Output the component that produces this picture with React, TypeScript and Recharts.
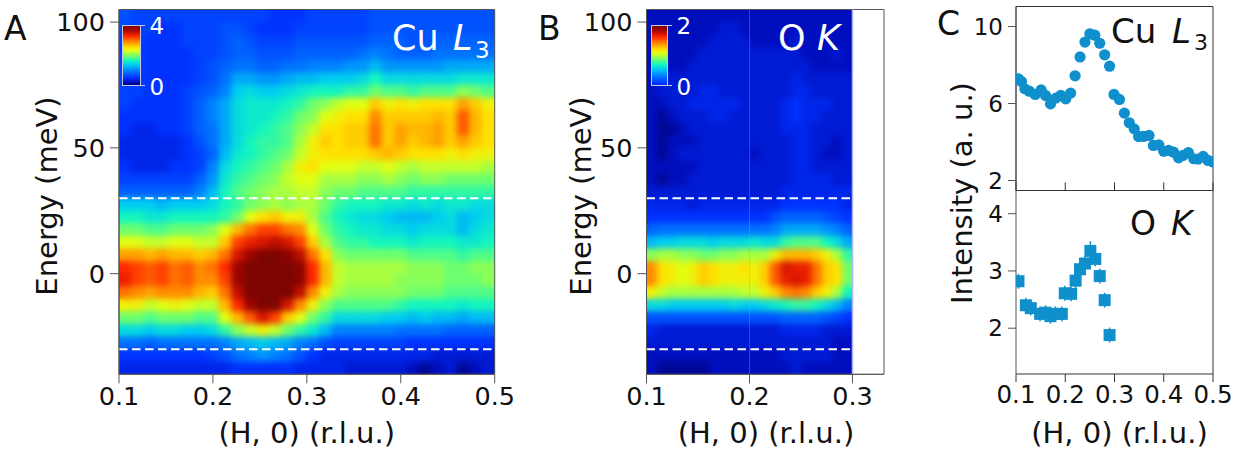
import React from "react";
import { ScatterChart, Scatter, XAxis, YAxis, ReferenceLine, ReferenceArea, ErrorBar } from "recharts";

const FONT = '"DejaVu Sans", Verdana, sans-serif';
const W = 1236;
const H = 458;

// Energy bin centres, top to bottom (meV)
const energies = [102.5, 97.5, 92.5, 87.5, 82.5, 77.5, 72.5, 67.5, 62.5, 57.5, 52.5, 47.5, 42.5, 37.5, 32.5, 27.5, 22.5, 17.5, 12.5, 7.5, 2.5, -2.5, -7.5, -12.5, -17.5, -22.5, -27.5, -32.5, -37.5];

// Panel A: intensity x 10 (Cu L3), 30 H bins from 0.1 to 0.5
const cuMap = [
  [7,6,6,6,6,6,6,6,6,6,6,6,5,5,5,6,6,6,6,6,7,7,7,7,7,7,7,7,7,7],
  [6,6,6,5,5,6,6,6,7,7,6,5,5,5,6,6,6,6,6,6,7,7,7,7,7,7,7,7,7,7],
  [6,6,5,5,5,6,6,6,7,8,7,6,6,6,7,7,7,7,7,7,8,8,8,7,7,8,8,8,8,8],
  [6,6,5,5,5,5,6,6,7,8,8,7,7,7,8,8,8,8,8,9,10,9,8,8,8,9,9,9,9,9],
  [6,6,5,5,5,5,6,7,8,9,9,8,8,9,9,10,10,10,11,11,13,11,11,11,11,11,12,12,12,12],
  [6,6,5,5,5,5,6,7,9,12,12,11,11,12,13,13,14,14,14,15,17,15,15,15,15,15,15,16,16,16],
  [6,6,5,5,5,6,7,8,10,14,15,14,14,15,16,17,17,17,18,18,20,19,19,18,19,19,19,21,20,19],
  [6,5,5,5,5,6,8,10,12,15,16,16,16,17,18,20,21,23,24,24,27,25,26,25,26,26,26,29,27,25],
  [5,5,5,5,5,6,8,10,12,15,16,16,17,18,20,21,24,25,26,26,30,27,27,27,27,28,27,32,28,26],
  [5,4,4,5,5,6,8,9,12,15,16,17,18,19,21,23,26,26,27,27,31,27,29,28,28,29,27,32,28,26],
  [4,4,4,4,4,5,7,9,12,15,17,18,18,19,22,25,27,26,27,27,31,27,29,27,28,29,27,29,27,26],
  [4,4,4,4,4,5,6,8,13,16,17,18,19,20,23,25,26,26,26,26,27,28,27,26,26,26,25,26,25,25],
  [5,4,4,4,5,5,6,10,15,17,18,19,20,22,25,26,24,24,24,23,23,24,23,22,23,23,23,23,23,22],
  [6,6,6,6,6,6,8,11,16,18,19,20,21,23,24,24,22,22,22,21,21,22,21,20,21,21,20,20,20,20],
  [8,8,8,8,8,8,10,13,17,19,20,21,22,22,23,23,21,20,20,19,19,19,19,18,18,18,18,18,18,18],
  [14,14,14,13,14,14,14,15,17,18,20,21,22,21,22,22,20,18,17,17,17,16,16,15,16,15,16,16,15,15],
  [17,17,16,16,17,17,17,17,18,20,24,26,27,25,25,22,19,17,16,15,15,14,13,13,13,14,15,13,14,15],
  [20,20,19,19,20,20,20,21,24,28,31,33,33,31,30,24,20,18,17,16,16,15,15,14,15,15,15,13,15,16],
  [24,24,23,23,24,24,23,23,27,33,35,36,37,36,33,27,22,19,18,18,17,17,17,16,17,17,17,16,16,17],
  [29,29,28,29,28,28,27,28,31,36,39,42,42,40,37,31,26,21,20,20,20,20,20,19,19,19,19,18,19,19],
  [34,33,32,33,31,32,30,31,34,39,44,46,46,44,40,34,28,23,22,22,22,22,22,21,21,21,20,20,21,21],
  [35,33,32,33,31,32,30,30,33,39,44,46,46,44,40,34,28,23,22,22,22,22,21,21,21,21,20,20,20,21],
  [31,30,29,30,30,30,28,27,31,37,43,46,45,42,37,30,25,22,21,21,21,21,21,20,20,20,19,19,19,19],
  [25,25,23,24,25,24,23,23,28,34,39,42,42,36,30,25,21,19,19,19,19,19,18,17,17,17,17,16,17,17],
  [20,20,19,20,20,20,19,19,24,28,32,36,33,27,24,20,18,15,15,15,15,14,14,13,14,13,13,12,13,13],
  [15,15,14,15,15,14,14,15,18,21,23,25,23,20,18,16,13,10,10,10,10,10,9,9,9,9,8,8,8,8],
  [9,9,8,9,9,9,9,9,10,12,13,14,13,12,10,9,7,6,6,6,6,6,6,5,5,5,5,5,5,5],
  [5,5,5,5,5,5,5,6,7,9,10,11,10,9,7,5,4,4,4,4,4,4,4,4,4,3,3,3,3,3],
  [4,4,4,4,4,4,4,4,4,5,5,5,5,5,4,4,4,4,3,3,3,3,3,2,1,2,3,1,2,3],
];

// Panel B: intensity x 20 (O K), 20 H bins from 0.1 to 0.3
const oMap = [
  [2,2,2,2,2,2,2,2,2,2,2,2,2,2,2,2,2,2,2,2],
  [2,2,2,2,2,2,2,3,3,2,2,2,2,2,2,2,2,2,2,2],
  [2,2,2,2,2,2,3,3,3,3,2,2,2,2,3,2,2,2,2,2],
  [2,2,2,2,2,3,3,3,3,3,3,3,3,3,3,2,2,2,3,2],
  [2,2,2,2,3,3,3,3,3,3,3,3,3,3,3,3,2,2,2,2],
  [2,3,3,3,3,3,3,3,3,3,3,3,3,3,4,3,3,3,3,3],
  [2,3,3,3,3,4,4,3,3,3,3,3,3,3,4,4,3,3,3,3],
  [2,2,3,3,4,4,4,4,4,3,3,3,3,4,5,4,4,4,3,3],
  [2,1,2,3,3,3,4,4,3,3,3,3,3,4,5,4,4,3,3,3],
  [2,1,1,2,3,3,3,3,3,3,3,3,3,4,4,4,3,3,3,3],
  [2,1,2,2,2,3,3,3,3,3,3,3,3,3,4,4,3,3,2,3],
  [2,1,2,3,3,3,3,3,3,3,2,3,3,3,4,4,3,2,2,3],
  [2,2,2,2,2,3,3,3,3,3,3,3,3,3,4,4,3,3,3,3],
  [2,1,2,2,3,3,3,3,3,3,3,3,3,3,4,4,4,4,3,3],
  [3,3,3,3,3,3,3,3,3,3,3,3,3,4,4,4,4,4,4,4],
  [4,4,4,4,3,4,4,4,4,4,4,4,4,5,5,5,5,5,5,4],
  [5,5,5,5,5,5,5,5,5,5,5,5,7,8,8,8,8,7,6,5],
  [8,9,9,9,9,9,9,9,9,9,9,9,10,12,12,12,12,11,10,8],
  [13,14,14,15,15,15,14,15,15,15,16,15,15,18,19,19,19,17,15,12],
  [21,22,22,21,21,20,20,21,21,22,22,22,25,28,28,28,27,25,22,18],
  [30,26,25,24,25,27,26,25,25,26,25,27,32,36,35,35,31,27,26,20],
  [30,26,25,24,25,27,26,25,25,25,25,27,32,35,36,35,31,27,26,20],
  [25,23,22,22,22,22,22,22,22,23,23,25,27,30,31,30,27,25,22,17],
  [15,15,14,14,14,14,14,14,15,14,14,15,16,17,18,18,17,15,13,10],
  [7,7,7,7,7,7,7,7,7,7,7,7,7,8,8,8,8,7,6,5],
  [4,3,3,3,3,3,3,3,3,3,3,3,3,4,4,4,4,3,3,3],
  [3,3,3,3,3,3,3,3,3,3,3,3,3,3,3,3,3,3,2,2],
  [2,2,2,2,2,2,2,2,2,2,2,2,2,3,3,3,3,3,2,2],
  [2,1,1,1,1,1,2,2,2,2,2,2,2,2,3,2,2,2,2,2],
];

// Panel C, top: Cu L3
const cuH = [0.105,0.111,0.118,0.127,0.139,0.151,0.16,0.17,0.181,0.191,0.201,0.211,0.22,0.23,0.24,0.25,0.26,0.27,0.28,0.29,0.299,0.31,0.32,0.33,0.34,0.349,0.359,0.37,0.379,0.39,0.4,0.41,0.42,0.43,0.439,0.45,0.461,0.47,0.48,0.49,0.499];
const cuI = [7.28,7.14,6.76,6.64,6.47,6.71,6.42,5.98,6.28,6.42,6.24,6.54,7.44,8.42,9.19,9.62,9.55,9.13,8.53,7.94,6.47,6.21,5.5,5.0,4.68,4.29,4.29,4.34,3.82,3.85,3.52,3.56,3.47,3.18,3.3,3.45,3.13,3.11,3.25,3.04,2.97];

// Panel C, bottom: O K
const oH = [0.105,0.12,0.13,0.149,0.16,0.17,0.18,0.193,0.199,0.212,0.221,0.23,0.24,0.251,0.261,0.27,0.28,0.29];
const oI = [2.82,2.4,2.35,2.25,2.27,2.21,2.25,2.25,2.61,2.6,2.83,3.03,3.13,3.35,3.21,2.91,2.49,1.88];
const oErr = [0.13,0.13,0.13,0.13,0.13,0.13,0.13,0.13,0.13,0.13,0.13,0.13,0.13,0.17,0.13,0.13,0.13,0.13];

const energyTicks = [0, 50, 100];
const hTicksWide = [0.1, 0.2, 0.3, 0.4, 0.5];
const hTicksNarrow = [0.1, 0.2, 0.3];
const cuTicks = [2, 6, 10];
const oTicks = [2, 3, 4];

const stops: [number, number[]][] = [
  [0, [0, 0, 110]], [2, [0, 15, 190]], [5, [0, 50, 255]], [10, [0, 130, 255]], [14, [0, 205, 240]],
  [17, [20, 245, 190]], [20, [110, 255, 110]], [24, [225, 255, 20]], [26, [255, 225, 0]], [30, [255, 140, 0]],
  [34, [255, 40, 0]], [38, [170, 5, 0]], [41, [125, 5, 0]],
];
const colorOf = (v: number) => {
  if (v >= stops[stops.length - 1][0]) return `rgb(${stops[stops.length - 1][1].join(",")})`;
  for (let i = 1; i < stops.length; i++) {
    if (v <= stops[i][0]) {
      const [a, ca] = stops[i - 1];
      const [b, cb] = stops[i];
      const t = (v - a) / (b - a);
      return `rgb(${ca.map((c, k) => Math.round(c + (cb[k] - c) * t)).join(",")})`;
    }
  }
  return "#000";
};
const gradient = (from: number) =>
  `linear-gradient(to top, ${stops.filter((s) => s[0] >= from).map((s) => `${colorOf(s[0])} ${((s[0] - from) / (41 - from)) * 100}%`).join(", ")})`;

const cells = (m: number[][], hMin: number, hMax: number) => {
  const n = m[0].length;
  return m.flatMap((row, r) => row.map((v, c) => ({ h: hMin + ((c + 0.5) * (hMax - hMin)) / n, e: energies[r], v })));
};

const T = 9.5;
const B = 374.3;
const EDOM: [number, number] = [-40, 105];

function Heat({ left, right, hMin, hMax, m }: any) {
  const w = right - left;
  const h = B - T;
  const cw = w / m[0].length + 1;
  const ch = (h * 5) / 145 + 1;
  const data = cells(m, hMin, hMax);
  const shape = (p: any) => {
    const v = p.payload?.v ?? p.v;
    return <rect x={p.cx - cw / 2} y={p.cy - ch / 2} width={cw} height={ch} fill={colorOf(v)} />;
  };
  return (
    <div style={{ position: "absolute", left, top: T, width: w, height: h, overflow: "hidden" }}>
      <ScatterChart width={w} height={h} margin={{ top: 0, right: 0, bottom: 0, left: 0 }}>
        <XAxis type="number" dataKey="h" domain={[hMin, hMax]} hide />
        <YAxis type="number" dataKey="e" domain={EDOM} hide />
        <Scatter data={data} shape={shape} isAnimationActive={false} />
        <Scatter data={data} shape={shape} className="heat-soft" isAnimationActive={false} />
      </ScatterChart>
    </div>
  );
}

const frame = { position: "absolute" as const, left: 0, top: 0 };
const tickFont = { fontFamily: FONT, fontSize: 25.5, fill: "#111" };
const axisCol = "#555";

function MapAxes({ left, right, domain, ticks, hEnd, title, titleX, yTitleX, letter, letterX, children }: any) {
  return (
    <div style={{ ...frame, pointerEvents: "none" }}>
      <ScatterChart width={W} height={H} margin={{ top: T, right: W - right, bottom: H - B - 40, left: left - 60 }}>
        <XAxis type="number" dataKey="h" domain={domain} ticks={ticks} height={40} interval={0} allowDataOverflow
          tick={tickFont} tickSize={9} tickMargin={4} tickFormatter={(v: number) => v.toFixed(1)} stroke={axisCol} />
        <YAxis type="number" dataKey="e" domain={EDOM} ticks={energyTicks} width={60} interval={0} allowDataOverflow
          tick={tickFont} tickSize={9} tickMargin={5} stroke={axisCol} />
        <ReferenceArea x1={domain[0]} x2={domain[1]} y1={EDOM[0]} y2={EDOM[1]} fill="none" stroke={axisCol} strokeWidth={1} />
        <ReferenceLine segment={[{ x: domain[0], y: 30 }, { x: hEnd, y: 30 }]} stroke="#fff" strokeWidth={2} strokeDasharray="8.5 4.5" />
        <ReferenceLine segment={[{ x: domain[0], y: -30 }, { x: hEnd, y: -30 }]} stroke="#fff" strokeWidth={2} strokeDasharray="8.5 4.5" />
        {children}
        <text x={letterX} y={40} fontFamily={FONT} fontSize={33} fill="#111">{letter}</text>
        <text x={titleX} y={443} textAnchor="middle" fontFamily={FONT} fontSize={29} fill="#111">{title}</text>
        <text transform={`translate(${yTitleX},196) rotate(-90)`} textAnchor="middle" fontFamily={FONT} fontSize={29} fill="#111">Energy (meV)</text>
      </ScatterChart>
    </div>
  );
}

function ColorBar({ left, width, from, hi, lo }: any) {
  const txt = { position: "absolute" as const, left: left + width + 8.5, fontFamily: FONT, fontSize: 23, color: "#fff", lineHeight: "24px", fontWeight: 500 };
  return (
    <>
      <div style={{ position: "absolute", left, top: 24.5, width: width, height: 61, boxSizing: "border-box", border: "1px solid #c8c8dc", background: gradient(from) }} />
      <div style={{ position: "absolute", left: left + width, top: 24.5, width: 4, height: 1, background: "#c8c8dc" }} />
      <div style={{ position: "absolute", left: left + width, top: 84.5, width: 4, height: 1, background: "#c8c8dc" }} />
      <div style={{ ...txt, top: 14 }}>{hi}</div>
      <div style={{ ...txt, top: 75 }}>{lo}</div>
    </>
  );
}

const BLUE = "#0f8fcc";
const CL = 1016;
const CR = 1213;
const cuRows = cuH.map((h, i) => ({ h, v: cuI[i] }));
const oRows = oH.map((h, i) => ({ h, v: oI[i], err: oErr[i] }));
const cTick = { fontFamily: FONT, fontSize: 23, fill: "#111" };
const CUDOM: [number, number] = [1.48, 11.04];

const square = (p: any) => <rect x={p.cx - 6} y={p.cy - 6} width={12} height={12} fill={BLUE} />;

export default function App() {
  return (
    <div style={{ position: "absolute", left: 0, top: 0, width: W, height: H, background: "#fff", overflow: "hidden" }}>
      <style>{`.heat-soft{filter:url(#heatBlur)}`}</style>
      <svg width={0} height={0} style={{ position: "absolute" }}>
        <defs>
          <filter id="heatBlur" colorInterpolationFilters="sRGB">
            <feGaussianBlur stdDeviation={3} />
          </filter>
        </defs>
      </svg>

      <Heat left={119} right={494.7} hMin={0.1} hMax={0.5} m={cuMap} />
      <Heat left={646.5} right={852.5} hMin={0.1} hMax={0.3} m={oMap} />

      <MapAxes left={119} right={494.7} domain={[0.1, 0.5]} ticks={hTicksWide} hEnd={0.5} title="(H, 0) (r.l.u.)" titleX={306.7} yTitleX={56.5} letter="A" letterX={4}>
        <text x={392} y={50} fontFamily={FONT} fontSize={35} fill="#fff">
          Cu
          <tspan x={453} fontStyle="italic">L</tspan>
          <tspan x={475} dy={8} fontSize={23}>3</tspan>
        </text>
      </MapAxes>

      <MapAxes left={646.5} right={884} domain={[0.1, 0.3306]} ticks={hTicksNarrow} hEnd={0.3} title="(H, 0) (r.l.u.)" titleX={766} yTitleX={591} letter="B" letterX={538}>
        <ReferenceLine x={0.2} stroke="#8f9cff" strokeOpacity={0.35} strokeWidth={1} />
        <ReferenceLine x={0.3} stroke="#b0b4f0" strokeWidth={1.5} />
        <text x={778} y={50} fontFamily={FONT} fontSize={35} fill="#fff">
          O
          <tspan x={817} fontStyle="italic">K</tspan>
        </text>
      </MapAxes>

      <ColorBar left={122} width={19} from={0} hi="4" lo="0" />
      <ColorBar left={651} width={17} from={4} hi="2" lo="0" />

      {/* Panel C, top */}
      <div style={frame}>
        <ScatterChart width={W} height={H} margin={{ top: 6.5, right: W - CR, bottom: H - 190.5 - 20, left: CL - 60 }}>
          <XAxis type="number" dataKey="h" domain={[0.1, 0.5]} ticks={hTicksWide} height={20} interval={0} allowDataOverflow tick={false} tickLine={false} axisLine={false} />
          <YAxis type="number" dataKey="v" domain={CUDOM} ticks={cuTicks} width={60} interval={0} allowDataOverflow tick={cTick} tickSize={8} tickMargin={5} stroke={axisCol} />
          <ReferenceArea x1={0.1} x2={0.5} y1={CUDOM[0]} y2={CUDOM[1]} fill="none" stroke="#333" strokeWidth={1} />
          {hTicksWide.map((t) => (
            <ReferenceLine key={t} segment={[{ x: t, y: CUDOM[0] }, { x: t, y: 1.9 }]} stroke="#333" strokeWidth={1} />
          ))}
          <Scatter data={cuRows} fill={BLUE} shape={(p: any) => <circle cx={p.cx} cy={p.cy} r={5.6} fill={BLUE} />} isAnimationActive={false} />
          <text x={1111} y={43} fontFamily={FONT} fontSize={34} fill="#111">
            Cu
            <tspan x={1172} fontStyle="italic">L</tspan>
            <tspan x={1194} dy={7} fontSize={22}>3</tspan>
          </text>
          <text x={937} y={35} fontFamily={FONT} fontSize={33} fill="#111">C</text>
          <text transform="translate(972,193) rotate(-90)" textAnchor="middle" fontFamily={FONT} fontSize={29} fill="#111">Intensity (a. u.)</text>
        </ScatterChart>
      </div>

      {/* Panel C, bottom */}
      <div style={frame}>
        <ScatterChart width={W} height={H} margin={{ top: 190.5, right: W - CR, bottom: H - 374 - 40, left: CL - 60 }}>
          <XAxis type="number" dataKey="h" domain={[0.1, 0.5]} ticks={hTicksWide} height={40} interval={0} allowDataOverflow tick={{ ...cTick, fontSize: 24.5 }} tickSize={8} tickMargin={4} tickFormatter={(v: number) => v.toFixed(1)} stroke="#333" />
          <YAxis type="number" dataKey="v" domain={[1.2, 4.405]} ticks={oTicks} width={60} interval={0} allowDataOverflow tick={cTick} tickSize={8} tickMargin={5} stroke={axisCol} />
          <ReferenceLine segment={[{ x: 0.5, y: 1.2 }, { x: 0.5, y: 4.405 }]} stroke="#333" strokeWidth={1} />
          <Scatter data={oRows} fill={BLUE} shape={square} isAnimationActive={false}>
            <ErrorBar dataKey="err" direction="y" width={0} stroke={BLUE} strokeWidth={1.5} isAnimationActive={false} />
          </Scatter>
          <text x={1130} y={235} fontFamily={FONT} fontSize={33} fill="#111">
            O
            <tspan x={1171} fontStyle="italic">K</tspan>
          </text>
          <text x={1119.5} y={443} textAnchor="middle" fontFamily={FONT} fontSize={29} fill="#111">(H, 0) (r.l.u.)</text>
        </ScatterChart>
      </div>
    </div>
  );
}
